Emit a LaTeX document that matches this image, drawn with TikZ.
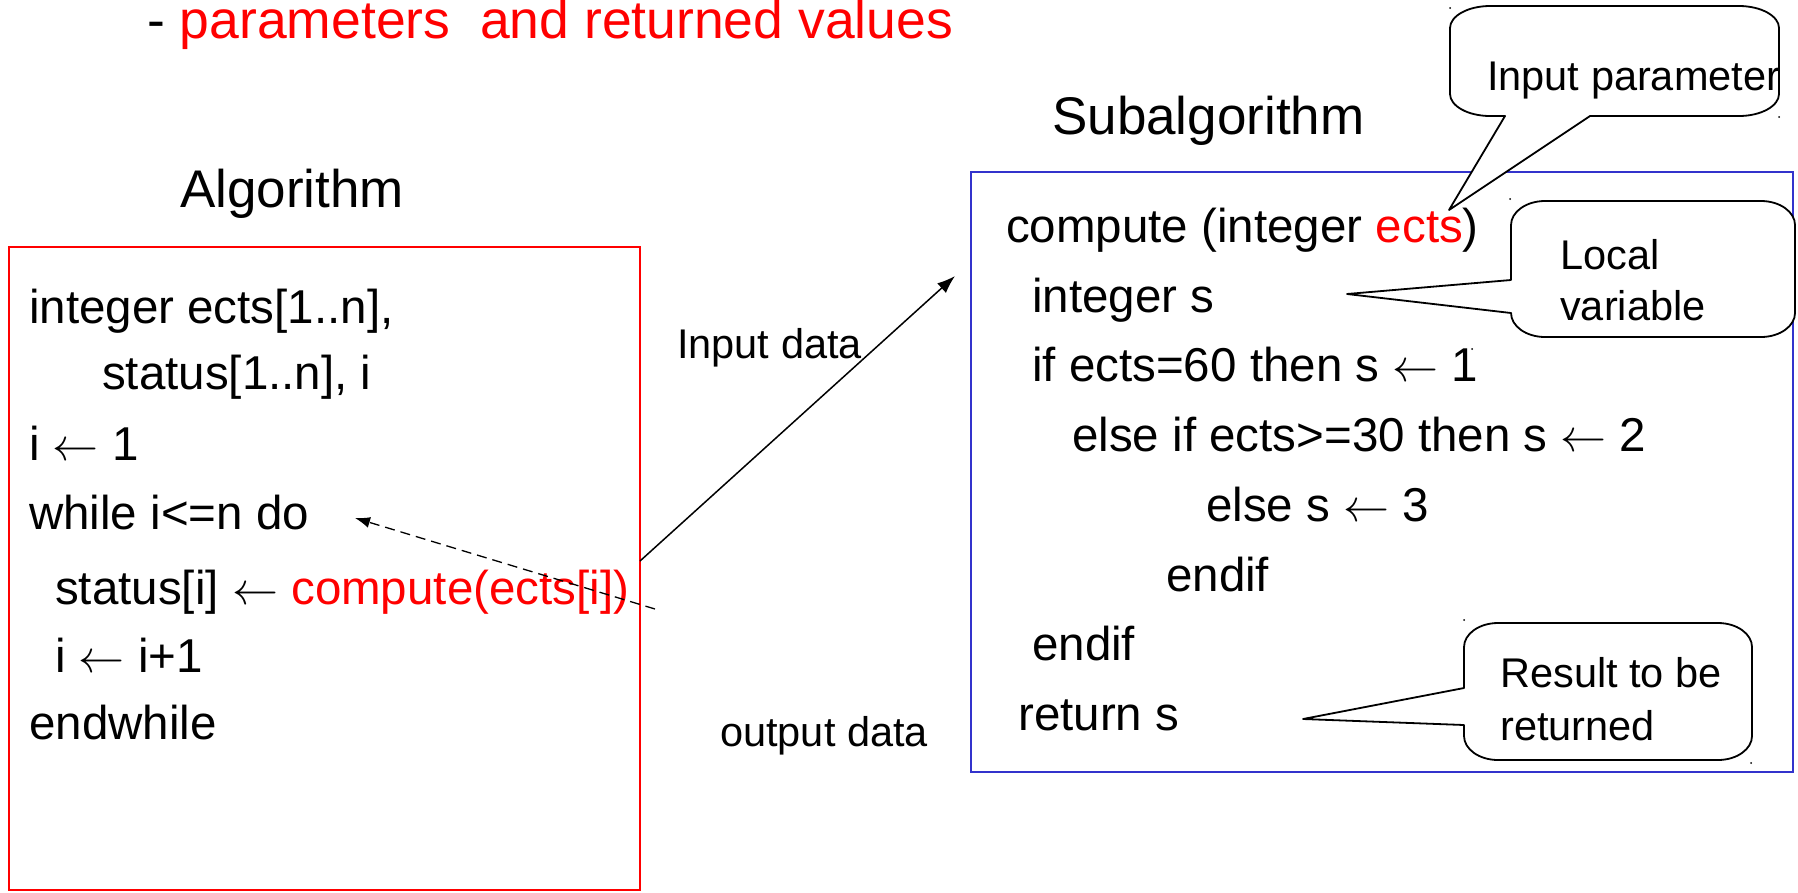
\documentclass[tikz,border=0pt]{standalone}
\usepackage{graphicx}
\usepackage{fontspec}
\setmainfont{Liberation Sans}
\usetikzlibrary{arrows.meta}
\definecolor{boxblue}{RGB}{51,51,204}
\newcommand\la{{\fontsize{10}{12}\selectfont\scalebox{4.6}{$\leftarrow$}}}
\newcommand\ballL[8]{%
 \draw[balloon] ({#1+34},#2) -- ({#3-34},#2)
   .. controls ({#3-15},#2) and (#3,{#2+11}) .. (#3,{#2+24})
   -- (#3,{#4-24})
   .. controls (#3,{#4-11}) and ({#3-15},#4) .. ({#3-34},#4)
   -- ({#1+34},#4)
   .. controls ({#1+15},#4) and (#1,{#4-11}) .. (#1,{#4-24})
   -- (#1,#6) -- (#7,#8) -- (#1,#5)
   -- (#1,{#2+24})
   .. controls (#1,{#2+11}) and ({#1+15},#2) .. ({#1+34},#2) -- cycle;}
\newcommand\ballB[8]{%
 \draw[balloon] ({#1+40},#2) -- ({#3-40},#2)
   .. controls ({#3-18},#2) and (#3,{#2+10}) .. (#3,{#2+22})
   -- (#3,{#4-22})
   .. controls (#3,{#4-10}) and ({#3-18},#4) .. ({#3-40},#4)
   -- (#6,#4) -- (#7,#8) -- (#5,#4)
   -- ({#1+40},#4)
   .. controls ({#1+18},#4) and (#1,{#4-10}) .. (#1,{#4-22})
   -- (#1,{#2+22})
   .. controls (#1,{#2+10}) and ({#1+18},#2) .. ({#1+40},#2) -- cycle;}
\begin{document}
\begin{tikzpicture}[x=1pt,y=-1pt,
  code/.style={anchor=base west, inner sep=0pt, font=\fontsize{47.5}{57}\selectfont},
  head/.style={anchor=base west, inner sep=0pt, font=\fontsize{53}{63}\selectfont},
  lbl/.style={anchor=base west, inner sep=0pt, font=\fontsize{41.5}{50}\selectfont},
  frame/.style={line width=1.5pt, inner sep=0pt, outer sep=0pt, anchor=north west},
  balloon/.style={draw=black, line width=1.8pt, fill=white, line join=round},
  dotmark/.style={fill=black, inner sep=0pt, minimum size=2pt, circle},
  callarrow/.style={line width=1.5pt, -{Latex[length=18,width=13]}},
  retarrow/.style={line width=1.3pt, dash pattern=on 10pt off 6pt, -{Latex[length=15,width=11]}}]
\useasboundingbox (0,0) rectangle (1798,892);

% boxes
\node[frame, draw=red, minimum width=631, minimum height=643] (algbox) at (9,247) {};
\node[frame, draw=boxblue, minimum width=822, minimum height=600] (subbox) at (971,172) {};

% title and headings
\node[head, font=\fontsize{53.5}{64}\selectfont] (title) at (147,38) {- \textcolor{red}{parameters~~and returned values}};
\node[head] (alg) at (180,207) {Algorithm};
\node[head] (sub) at (1052,134) {Subalgorithm};

% left code
\node[code] (a1) at (29,323) {integer ects[1..n],};
\node[code] (a2) at (102,389) {status[1..n], i};
\node[code] (a3) at (29,460) {i \la\ 1};
\node[code] (a4) at (29,529) {while i<=n do};
\node[code] (a5) at (55,604) {status[i] \la\ \textcolor{red}{compute(ects[i])}};
\node[code] (a6) at (55,672) {i \la\ i+1};
\node[code] (a7) at (29,739) {endwhile};

% right code
\node[code] (b1) at (1006,242) {compute (integer \textcolor{red}{ects})};
\node[code] (b2) at (1032,312) {integer s};
\node[code] (b3) at (1032,381) {if ects=60 then s \la\ 1};
\node[code] (b4) at (1072,451) {else if ects>=30 then s \la\ 2};
\node[code] (b5) at (1206,521) {else s \la\ 3};
\node[code] (b6) at (1166,591) {endif};
\node[code] (b7) at (1032,660) {endif};
\node[code] (b8) at (1018,730) {return s};

% flow labels
\node[lbl] (indata) at (677,358) {Input data};
\node[lbl] (outdata) at (720,746) {output data};

% connectors
\coordinate (callsite) at (640,561);
\coordinate (subin) at (955,276);
\coordinate (retfrom) at (655,609);
\coordinate (retto) at (355,518);
\draw[callarrow] (callsite) -- (subin);
\draw[retarrow] (retfrom) -- (retto);

% callouts
\ballB{1450}{6}{1779}{116}{1505}{1590}{1449}{210}
\node[lbl] (inparam) at (1487,90) {Input parameter};
\ballL{1511}{201}{1795}{337}{280}{313}{1347}{294}
\node[lbl] (local1) at (1560,269) {Local};
\node[lbl] (local2) at (1560,320) {variable};
\ballL{1464}{623}{1752}{760}{688}{725}{1303}{719}
\node[lbl] (res1) at (1500,687) {Result to be};
\node[lbl] (res2) at (1500,740) {returned};

% tiny corner marks
\foreach \p [count=\k] in {(1450,8),(1779,117),(1510,199),(1472,349),(1464,620),(1751,763)}
  \node[dotmark] (mark\k) at \p {};
\end{tikzpicture}
\end{document}
